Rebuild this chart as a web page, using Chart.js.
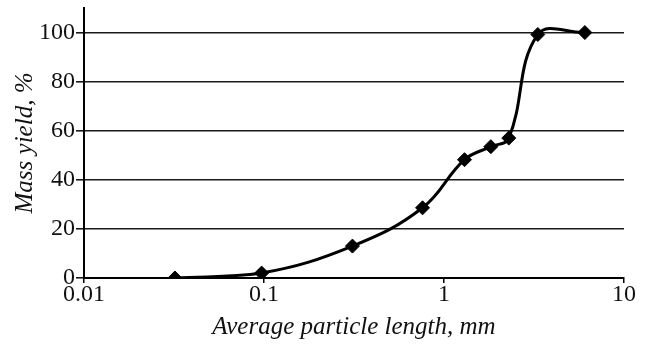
<!DOCTYPE html>
<html lang="en">
<head>
    <meta charset="UTF-8">
    <title>Mass yield vs particle length</title>
    <script src="https://cdn.jsdelivr.net/npm/chart.js"></script>
    <style>
        html, body { margin: 0; padding: 0; background: #fff; }
        #wrap { width: 648px; height: 345px; }
    </style>
</head>
<body>
    <div id="wrap"><canvas id="yieldChart"></canvas></div>

    <script>
        // values
        const lengthMm = [0.032, 0.097, 0.31, 0.76, 1.30, 1.82, 2.29, 3.32, 6.06];
        const massYield = [0, 2, 13, 28.6, 48.2, 53.5, 57, 99.2, 100];
        const xTicks = [0.01, 0.1, 1, 10];
        const yTicks = [0, 20, 40, 60, 80, 100];

        const points = lengthMm.map((x, i) => ({ x: x, y: massYield[i] }));
        const ink = '#111';

        const ctx = document.getElementById('yieldChart').getContext('2d');
        new Chart(ctx, {
            type: 'line',
            data: {
                datasets: [{
                    data: points,
                    borderColor: '#000',
                    borderWidth: 3,
                    backgroundColor: '#000',
                    pointStyle: 'rectRot',
                    pointRadius: 7,
                    pointBorderWidth: 1,
                    fill: false,
                    tension: 0.4
                }]
            },
            options: {
                responsive: true,
                maintainAspectRatio: false,
                animation: false,
                layout: { padding: { top: 7, right: 24, left: 0, bottom: 0 } },
                plugins: {
                    legend: { display: false },
                    tooltip: { enabled: false }
                },
                scales: {
                    x: {
                        type: 'logarithmic',
                        min: 0.01,
                        max: 10,
                        afterBuildTicks: axis => { axis.ticks = xTicks.map(v => ({ value: v })); },
                        afterFit: axis => {
                            axis.height = 67;
                            axis.paddingLeft = 0;
                            axis.paddingRight = 0;
                        },
                        border: { display: true, color: '#000', width: 2 },
                        grid: {
                            drawOnChartArea: false,
                            drawTicks: true,
                            tickLength: 5,
                            color: '#000',
                            lineWidth: 1.5
                        },
                        ticks: {
                            autoSkip: false,
                            maxRotation: 0,
                            padding: 0,
                            color: ink,
                            font: { family: 'Liberation Serif', size: 24, lineHeight: 1 },
                            callback: v => String(v)
                        },
                        title: {
                            display: true,
                            text: 'Average particle length, mm',
                            color: ink,
                            padding: { top: 0, bottom: 3 },
                            font: { family: 'Liberation Serif', size: 25, style: 'italic', lineHeight: 1.2 }
                        }
                    },
                    y: {
                        min: 0,
                        max: 110,
                        afterBuildTicks: axis => { axis.ticks = yTicks.map(v => ({ value: v })); },
                        afterFit: axis => {
                            axis.width = 84;
                            axis.paddingTop = 0;
                            axis.paddingBottom = 0;
                        },
                        border: { display: true, color: '#000', width: 2 },
                        grid: {
                            drawTicks: true,
                            tickLength: 8,
                            color: '#1a1a1a',
                            lineWidth: 1.6
                        },
                        ticks: {
                            padding: 1,
                            color: ink,
                            font: { family: 'Liberation Serif', size: 24, lineHeight: 1 }
                        },
                        title: {
                            display: true,
                            text: 'Mass yield, %',
                            color: ink,
                            padding: { top: 10, bottom: 0 },
                            font: { family: 'Liberation Serif', size: 25, style: 'italic', lineHeight: 1.2 }
                        }
                    }
                }
            }
        });
    </script>
</body>
</html>
